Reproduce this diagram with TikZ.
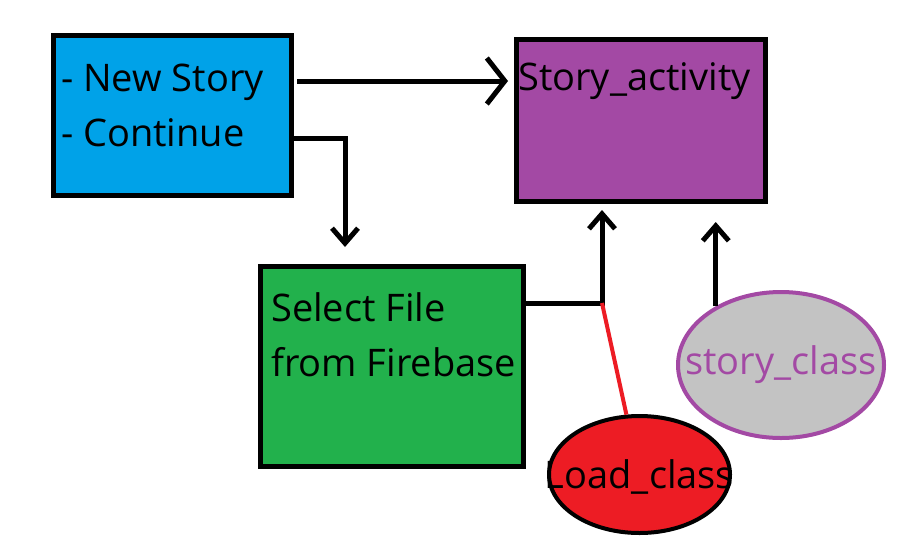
\documentclass[tikz,border=0pt]{standalone}
\usepackage{fontspec}
\setmainfont{Open Sans}
\usetikzlibrary{arrows.meta,shapes.geometric}
\definecolor{paintblue}{HTML}{00A2E8}
\definecolor{paintpurple}{HTML}{A349A4}
\definecolor{paintgreen}{HTML}{22B14C}
\definecolor{paintred}{HTML}{ED1C24}
\definecolor{paintgray}{HTML}{C3C3C3}
\tikzset{
  box/.style={draw, line width=5pt, inner sep=0pt},
  oval/.style={ellipse, line width=4pt, inner sep=0pt},
  boxtext/.style={anchor=base west, align=left, inner sep=0pt, font=\fontsize{38}{55}\selectfont},
  link/.style={line width=5pt},
  bigtip/.style={-{Straight Barb[length=18pt,width=46pt]}},
  smalltip/.style={-{Straight Barb[length=15pt,width=26pt]}},
}
\begin{document}
\begin{tikzpicture}[x=1pt,y=-1pt]
\useasboundingbox[fill=white] (0,0) rectangle (899,547);
% boxes
\node[box, fill=paintblue, minimum width=238pt, minimum height=160pt] (menu) at (172.5,115.5) {};
\node[boxtext] (menutext) at (61,146) {- New Story\\- Continue};
\node[box, fill=paintpurple, minimum width=249pt, minimum height=162pt] (activity) at (641,120.5) {};
\node[boxtext] (activitytext) at (518,90) {Story\_activity};
\node[box, fill=paintgreen, minimum width=263pt, minimum height=200pt] (select) at (392,366.5) {};
\node[boxtext] (selecttext) at (271,376) {Select File\\from Firebase};
% classes
\node[oval, draw=black, fill=paintred, minimum width=181pt, minimum height=117pt,
  label={[font=\fontsize{38}{40}\selectfont, text=black, yshift=-2pt]center:Load\_class}] (load) at (639.5,474.5) {};
\node[oval, draw=paintpurple, fill=paintgray, minimum width=206pt, minimum height=146pt,
  label={[font=\fontsize{38}{40}\selectfont, text=paintpurple]center:story\_class}] (storyclass) at (781,365) {};
% connectors
\coordinate (bend) at (345,138);
\coordinate (join) at (602,303);
\draw[link, bigtip, shorten >=6pt] ([xshift=3pt]menu.east |- 0,81) -- (activity.west |- 0,81);
\draw[link, smalltip, shorten >=17pt] (menu.east |- bend) -- (bend) -- (bend |- select.north);
\draw[link, smalltip, shorten >=6pt] (select.east |- join) -- (join) -- (join |- activity.south);
\draw[line width=4pt, paintred] (join) -- (load);
\draw[link, smalltip, shorten >=18pt] (storyclass.138) -- (storyclass.138 |- activity.south);
\end{tikzpicture}
\end{document}
